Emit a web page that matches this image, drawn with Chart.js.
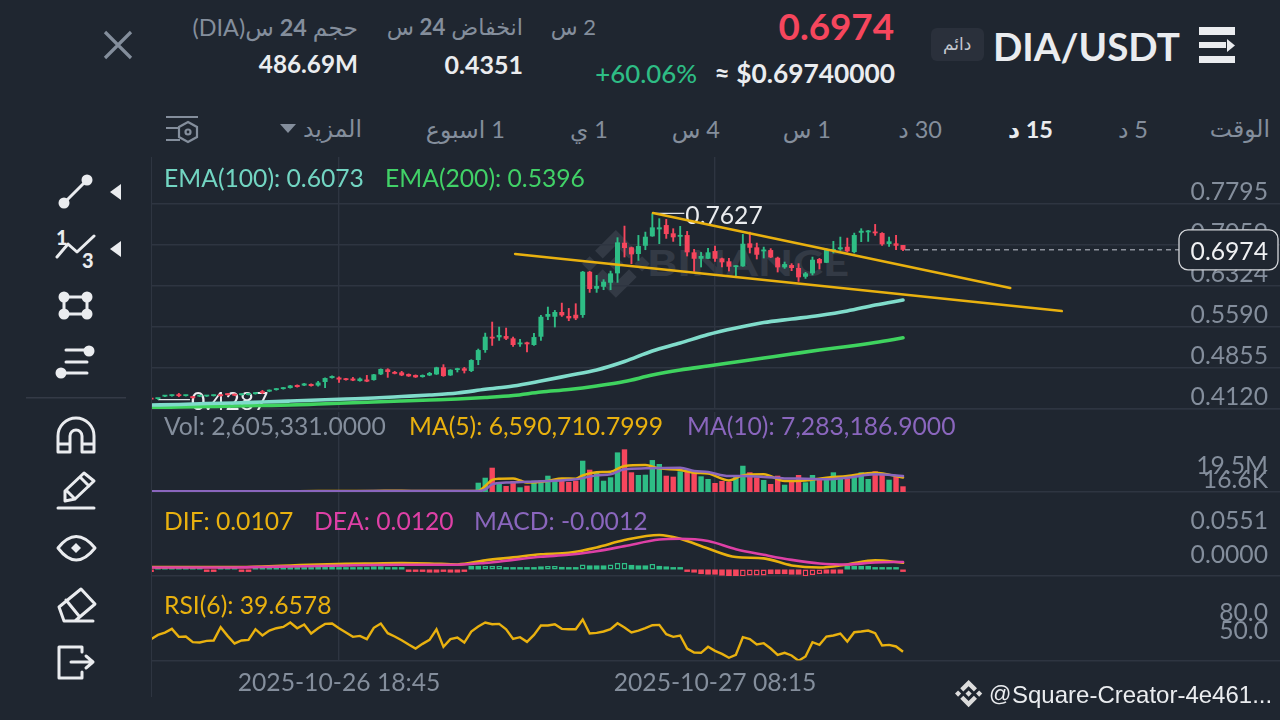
<!DOCTYPE html>
<html><head><meta charset="utf-8">
<style>
html,body{margin:0;padding:0;width:1280px;height:720px;overflow:hidden;background:#1f2630}
body{position:relative;font-family:Lato,"DejaVu Sans",sans-serif}
canvas{position:absolute;left:152px;z-index:2}
.t{position:absolute;white-space:nowrap;line-height:30px;height:30px;font-size:24.7px;z-index:3;color:#848e9c}
.r{direction:rtl;unicode-bidi:isolate;font-size:23.5px}
.w{color:#eaecef}
svg{position:absolute;overflow:visible}
</style></head><body>
<svg style="left:0;top:0;z-index:1" width="1280" height="720">
  <g transform="translate(582,230) scale(.535)" fill="#333a45">
    <path d="M38.73 53.2l24.59-24.58 24.6 24.6 14.3-14.31L63.32 0 24.42 38.9z"/><path d="M0 63.31l14.3-14.31 14.31 14.31-14.31 14.3z"/><path d="M38.73 73.41l24.59 24.59 24.6-24.6 14.31 14.29-38.9 38.91-38.91-38.88z"/><path d="M98 63.31l14.3-14.31 14.31 14.3-14.31 14.32z"/><path d="M77.83 63.3L63.32 48.78 52.59 59.51l-1.24 1.23-2.54 2.54 14.51 14.5 14.51-14.47z"/>
  </g>
  <text x="647" y="276" font-family="Lato" font-weight="900" font-size="36" textLength="202" lengthAdjust="spacingAndGlyphs" fill="#333a45">BINANCE</text>
  <rect x="151" y="157" width="1" height="540" fill="#2e3541"/>
  <rect x="26" y="397" width="100" height="1.5" fill="#343a46"/>
  <path d="M105 32L131 58M131 32L105 58" stroke="#848e9c" stroke-width="3.2" fill="none"/>
  <g fill="#eaecef"><rect x="1199" y="27" width="36" height="8"/><rect x="1199" y="42" width="27" height="6"/><path d="M1227 39l8 6.5-8 6.5z"/><rect x="1199" y="56" width="36" height="7"/></g>
  <rect x="931" y="28" width="53" height="33" rx="6" fill="#2a303b"/>
  <g stroke="#848e9c" stroke-width="2.2" fill="none"><path d="M166 117H198M166 128H180M166 140H180"/><path d="M188 122l9 5v10l-9 5-9-5v-10z"/><circle cx="188" cy="132" r="2.5"/></g>
  <path d="M280 124h16l-8 9z" fill="#848e9c"/>
  <g stroke="#eaecef" stroke-width="3" fill="none" stroke-linecap="round" stroke-linejoin="round">
    <path d="M64 203L87 180"/>
    <path d="M57 257L68 244L77 252L94 236"/>
    <path d="M64 297H87V314H64Z"/>
    <path d="M66 350H89M66 362H87M61 373H87"/>
    <path d="M58 452V436a18 18 0 0 1 36 0V452H82V436a6 6 0 0 0-12 0V452ZM58 444H70M82 444H94"/>
    <path d="M58 508H94M65 501L65 491L84 473L94 481L75 499ZM66 490L75 499M80 477L89 486"/>
    <path d="M58 548Q76 525 95 548Q76 572 58 548Z"/>
    <path d="M59 607L81 589L95 604L75 621H64ZM66 600L79 616M75 621H93"/>
    <path d="M82 647H59V678H82V672M82 652V647M71 662H93M86 656L93 662L86 668"/>
  </g>
  <g fill="#eaecef">
    <circle cx="64" cy="203" r="5.5"/><circle cx="87" cy="180" r="5.5"/>
    <circle cx="64" cy="297" r="5.5"/><circle cx="87" cy="297" r="5.5"/><circle cx="64" cy="314" r="5.5"/><circle cx="87" cy="314" r="5.5"/>
    <circle cx="89" cy="351" r="5.5"/><circle cx="61" cy="373" r="5.5"/>
    <path d="M76 543l5 5-5 5-5-5z"/>
    <path d="M121 184v16l-11-8z"/><path d="M121 241v16l-11-8z"/>
    <text x="56" y="245" font-family="Lato" font-weight="900" font-size="20">1</text>
    <text x="82" y="268" font-family="Lato" font-weight="900" font-size="20">3</text>
  </g>
  <g transform="translate(955,680) scale(.215)" fill="#dcdcdc">
    <path d="M38.73 53.2l24.59-24.58 24.6 24.6 14.3-14.31L63.32 0 24.42 38.9z"/><path d="M0 63.31l14.3-14.31 14.31 14.31-14.31 14.3z"/><path d="M38.73 73.41l24.59 24.59 24.6-24.6 14.31 14.29-38.9 38.91-38.91-38.88z"/><path d="M98 63.31l14.3-14.31 14.31 14.3-14.31 14.32z"/><path d="M77.83 63.3L63.32 48.78 52.59 59.51l-1.24 1.23-2.54 2.54 14.51 14.5 14.51-14.47z"/>
  </g>
</svg>

<div class="t" style="right:386px;top:7px;font-size:36.8px;font-weight:700;color:#f6465d;line-height:38px;height:38px">0.6974</div>
<div class="t w" style="right:385px;top:58px;font-size:26.3px;font-weight:700">≈ $0.69740000</div>
<div class="t" style="right:583px;top:58px;font-size:25.8px;font-weight:500;color:#2ebd85">+60.06%</div>
<div class="t r" style="right:684px;top:12px;font-size:22px">2 س</div>
<div class="t r" style="right:757px;top:12px;font-size:22.3px">انخفاض <b>24</b> س</div>
<div class="t r" style="right:922px;top:12px;font-size:23.4px">حجم <b>24</b> س(DIA)</div>
<div class="t w" style="right:757px;top:49px;font-size:25px;font-weight:700">0.4351</div>
<div class="t w" style="right:922px;top:49px;font-size:24.3px;font-weight:700">486.69M</div>
<div class="t w" style="left:993px;top:24px;font-size:38.6px;font-weight:700;line-height:44px;height:44px">DIA/USDT</div>
<div class="t" style="left:943px;top:29px;font-size:17px;color:#c4c8cf">دائم</div>

<div class="t r" style="right:10px;top:113px">الوقت</div>
<div class="t r" style="right:132px;top:114px">5 د</div>
<div class="t r w" style="right:227px;top:114px;font-weight:700">15 د</div>
<div class="t r" style="right:338px;top:114px">30 د</div>
<div class="t r" style="right:449px;top:114px">1 س</div>
<div class="t r" style="right:560px;top:114px">4 س</div>
<div class="t r" style="right:672px;top:114px">1 ي</div>
<div class="t r" style="right:775px;top:114px">1 اسبوع</div>
<div class="t r" style="right:918px;top:113px">المزيد</div>

<div class="t" style="left:164px;top:163px;color:#72d5c2">EMA(100): 0.6073</div>
<div class="t" style="left:385px;top:163px;color:#41d167">EMA(200): 0.5396</div>
<div class="t" style="left:164px;top:411px">Vol: 2,605,331.0000</div>
<div class="t" style="left:409px;top:411px;color:#e9b10f">MA(5): 6,590,710.7999</div>
<div class="t" style="left:687px;top:411px;color:#8a66bd">MA(10): 7,283,186.9000</div>
<div class="t" style="left:164px;top:506px;color:#e9b10f">DIF: 0.0107</div>
<div class="t" style="left:314px;top:506px;color:#de40a6">DEA: 0.0120</div>
<div class="t" style="left:474px;top:506px;color:#8a66bd">MACD: -0.0012</div>
<div class="t" style="left:164px;top:590px;color:#e9b10f">RSI(6): 39.6578</div>
<div class="t" style="left:989px;top:679px;color:#eaecef;font-family:'Liberation Sans';font-size:22px">@</div>
<div class="t" style="left:1012px;top:680px;color:#eaecef;font-family:'Liberation Sans';font-size:24px">Square-Creator-4e461...</div>

<canvas id="cMain" width="1128" height="253" style="top:157px"></canvas>
<canvas id="cVol" width="1128" height="81" style="top:412px"></canvas>
<canvas id="cMacd" width="1128" height="85" style="top:492px"></canvas>
<canvas id="cRsi" width="1128" height="121" style="top:576px"></canvas>

<script src="https://cdn.jsdelivr.net/npm/chart.js@4"></script>
<script>
const timeIndex = [27, 81];
const timeLabels = ["2025-10-26 18:45", "2025-10-27 08:15"];
const priceTicks = [0.7795, 0.7059, 0.6324, 0.5590, 0.4855, 0.4120];

const opens = [
.4304,.4299,.4343,.4352,.4370,.4352,.4343,.4343,.4345,.4352,
.4370,.4397,.4388,.4370,.4372,.4388,.4433,.4433,.4460,.4478,
.4496,.4550,.4541,.4568,.4541,.4604,.4675,.4684,.4666,.4666,
.4621,.4648,.4639,.4741,.4831,.4783,.4777,.4747,.4729,.4693,
.4723,.4741,.4867,.4723,.4819,.4849,.4801,.4998,.5177,.5416,
.5405,.5428,.5387,.5280,.5315,.5267,.5416,.5774,.5774,.5859,
.5787,.5810,.5805,.6581,.6276,.6312,.6384,.6552,.7101,.7019,
.6899,.7047,.7216,.7341,.7418,.7270,.7209,.7239,.6929,.6814,
.6814,.6952,.6821,.6768,.6665,.6678,.7090,.7019,.6947,.6970,
.6832,.6660,.6701,.6648,.6491,.6552,.6809,.6742,.6958,.6983,
.7029,.6934,.7280,.7288,.7298,.7275,.7078,.7090,.7060];
const closes = [
.4290,.4317,.4361,.4370,.4352,.4370,.4317,.4361,.4361,.4370,
.4352,.4370,.4361,.4388,.4390,.4415,.4406,.4460,.4487,.4505,
.4541,.4514,.4577,.4532,.4595,.4675,.4711,.4648,.4639,.4630,
.4666,.4612,.4741,.4837,.4783,.4752,.4723,.4706,.4688,.4729,
.4765,.4867,.4711,.4824,.4849,.4806,.4998,.5177,.5416,.5384,
.5446,.5380,.5267,.5308,.5280,.5410,.5774,.5823,.5859,.5799,
.5745,.5745,.6581,.6271,.6325,.6402,.6552,.7108,.7006,.6893,
.7042,.7209,.7377,.7377,.7257,.7198,.7234,.6929,.6814,.6863,
.6929,.6814,.6750,.6671,.6689,.7083,.7011,.6886,.6970,.6839,
.6660,.6719,.6648,.6481,.6552,.6796,.6732,.6983,.6988,.7019,
.6947,.7239,.7316,.7316,.7270,.7072,.7126,.7047,.6974];
const highs = [
.4334,.4317,.4370,.4379,.4406,.4375,.4352,.4370,.4368,.4379,
.4379,.4406,.4397,.4397,.4399,.4424,.4460,.4469,.4496,.4514,
.4550,.4559,.4586,.4577,.4622,.4684,.4720,.4702,.4675,.4693,
.4684,.4729,.4748,.4846,.4849,.4801,.4801,.4756,.4738,.4738,
.4783,.4876,.4921,.4833,.4858,.4873,.5011,.5201,.5487,.5685,
.5595,.5577,.5416,.5375,.5326,.5482,.5805,.5954,.5894,.6025,
.5930,.6014,.6594,.6594,.6522,.6445,.6599,.7198,.7406,.7029,
.7239,.7298,.7627,.7539,.7526,.7359,.7401,.7311,.6988,.6934,
.7006,.7047,.6830,.6827,.6695,.7257,.7298,.7101,.7029,.7001,
.6850,.6761,.6732,.6732,.6576,.6850,.6827,.7001,.7132,.7209,
.7191,.7280,.7359,.7329,.7436,.7288,.7209,.7239,.7060];
const lows = [
.4288,.4287,.4335,.4343,.4334,.4345,.4308,.4335,.4337,.4345,
.4343,.4361,.4352,.4361,.4365,.4379,.4388,.4424,.4451,.4469,
.4487,.4505,.4532,.4523,.4523,.4496,.4666,.4591,.4630,.4621,
.4612,.4603,.4630,.4730,.4681,.4743,.4711,.4697,.4679,.4684,
.4711,.4732,.4699,.4714,.4777,.4759,.4783,.4908,.5129,.5254,
.5344,.5357,.5236,.5236,.5136,.5254,.5344,.5715,.5584,.5774,
.5697,.5715,.5756,.6205,.6205,.6253,.6253,.6384,.6839,.6719,
.6778,.6970,.7210,.7078,.7173,.7119,.7042,.6857,.6581,.6660,
.6810,.6761,.6660,.6588,.6468,.6671,.6911,.6803,.6821,.6827,
.6570,.6635,.6594,.6402,.6456,.6517,.6624,.6737,.6911,.6958,
.6929,.6911,.7114,.7119,.7227,.7047,.7029,.6970,.6952];

const emaIndex = [0,4,8,12,16,20,24,28,32,36,40,44,48,52,56,60,64,68,72,76,80,84,88,92,96,100,104,108];
const ema100 = [.4191,.4200,.4218,.4227,.4245,.4263,.4281,.4299,.4317,.4343,.4370,.4406,.4473,.4532,.4622,.4720,.4819,.4971,.5159,.5303,.5455,.5572,.5670,.5733,.5796,.5877,.5984,.6073];
const ema200 = [.4146,.4155,.4164,.4173,.4182,.4191,.4209,.4227,.4245,.4263,.4281,.4299,.4326,.4362,.4424,.4469,.4532,.4612,.4729,.4819,.4890,.4962,.5034,.5106,.5177,.5240,.5312,.5396];

const trendUpperIndex = [72.1, 123.4];
const trendUpperPrice = [.7634, .6289];
const trendLowerIndex = [52.3, 130.8];
const trendLowerPrice = [.6899, .5877];
const highMark = {index: 72, price: .7627};
const lowMark = {index: 1, price: .4287};
const lastPrice = .6974;

const volumesM = [
.18,.22,.12,.1,.14,.09,.16,.08,.1,.12,
.15,.2,.11,.09,.13,.12,.18,.14,.2,.16,
.24,.14,.12,.15,.28,.42,.16,.2,.12,.1,
.16,.22,.34,.4,.52,.2,.24,.18,.15,.14,
.18,.36,.48,.3,.2,.22,.5,4.25,6.53,11.1,
4.43,2.74,5.03,2.15,2.88,5.16,5.16,7.45,5.16,6.26,
4.57,5.16,14.3,10.2,9.0,5.16,6.72,18.1,19.5,9.0,
7.77,7.9,14.6,12.8,7.45,7.0,9.46,10.2,9.0,7.17,
5.94,4.11,5.03,4.71,7.45,12.0,9.0,6.72,5.48,3.66,
7.45,3.34,4.71,7.77,4.43,7.77,5.94,5.62,9.0,6.26,
6.26,7.17,9.0,5.94,9.46,8.68,5.62,7.17,2.605];
const ma5Index = [0,8,16,24,32,36,40,44,46,47,48,49,50,52,53,54,57,59,61,62,64,66,68,71,73,76,78,80,83,85,88,91,94,97,100,104,108];
const ma5M = [.3,.3,.3,.4,.5,.6,.4,.4,.4,.5,2.7,5.5,6.1,6.2,5.3,4.3,5.0,6.2,6.1,7.6,9.0,9.3,11.9,12.3,10.8,10.1,8.8,8.4,5.3,7.6,8.1,5.0,5.3,6.5,7.3,8.8,6.59];
const ma10Index = [0,8,16,24,32,36,40,44,46,47,48,49,51,54,57,61,64,66,68,71,76,78,80,83,85,88,91,94,97,100,104,108];
const ma10M = [.3,.3,.3,.3,.4,.45,.4,.4,.4,.4,1.2,3.5,4.3,4.7,5.0,5.8,7.6,8.1,10.4,10.8,11.1,9.6,9.1,7.3,7.3,6.9,6.2,6.1,5.8,6.5,8.1,7.28];
const volTickTop = 19.5, volTickBottom = 0.0166;

const macdIndex = [0,4,8,12,16,20,24,28,32,36,40,44,48,52,56,60,64,68,73,76,80,84,88,92,96,100,104,108];
const dif = [.0037,.0041,.0041,.0041,.0049,.0065,.0081,.0092,.0097,.0102,.0097,.0081,.0146,.0194,.0243,.0267,.0352,.0470,.0551,.0491,.0335,.0199,.0178,.0065,.0032,.0081,.0146,.0107];
const dea = [.0032,.0032,.0032,.0032,.0041,.0049,.0057,.0065,.0073,.0076,.0076,.0076,.0105,.0154,.0203,.0235,.0292,.0373,.0478,.0491,.0454,.0324,.0235,.0154,.0097,.0081,.0113,.0120];
const macdHist = [
-.0024,.0032,.0032,.0032,.0016,.0016,.0016,.0016,-.0024,-.0024,
.0032,.0032,.0016,-.0024,-.0024,.0032,.0028,.0032,.0036,.0032,
.0032,.0036,.0032,.0016,.0057,.0057,.0057,.0016,.0016,.0016,
.0016,.0016,.0049,.0049,.0016,.0016,.0016,-.0024,-.0024,-.0024,
-.0049,-.0049,-.0024,-.0049,-.0049,-.0024,.0057,.0057,.0057,.0057,
.0057,.0032,.0016,.0016,.0016,.0016,.0049,.0057,.0057,.0041,
.0024,.0024,.0081,.0065,.0065,.0065,.0081,.0105,.0105,.0073,
.0065,.0065,.0089,.0057,.0049,.0016,.0016,-.0032,-.0049,-.0073,
-.0081,-.0081,-.0097,-.0113,-.0113,-.0113,-.0097,-.0097,-.0097,-.0073,
-.0073,-.0073,-.0081,-.0081,-.0113,-.0089,-.0073,-.0065,-.0065,-.0065,
.0057,.0057,.0057,.0057,.0024,.0016,.0016,.0016,-.0012];
const hollowBars = [48,49,50,57,58,62,66,67,68,72,85,86,87,88,94,95,96];
const macdTicks = [.0551, 0];

const rsi6 = [
60.8,68,71.9,78,64.7,65.2,55.8,55.2,58,58.6,
80.8,66.3,53.6,58.6,59.7,77.4,66.9,75.2,79.1,81.3,
88.6,79.1,85.2,70.2,79.1,86.3,86.9,79.1,71.9,64.7,
66.3,60.8,79.7,86.9,70.8,65.2,59.1,51.9,45.2,53,
59.7,77.4,48,60.8,63.6,55.2,73.6,81.9,88.6,85.8,
86.3,77.4,61.3,64.1,56.3,68,83.6,83.6,85.8,78,
77.4,77.4,93.6,70.2,71.3,73.6,77.4,87.4,80.2,71.9,
75.2,79.1,84.1,84.7,69.1,64.7,66.9,45.2,38.6,38,
48,41.3,36.3,29.7,34.7,64.1,60.8,51.9,54.1,45.2,
34.7,38,33.6,24.7,31.9,55.8,51.3,65.2,66.9,70.2,
56.9,72.4,73.6,75.2,70.8,50.2,51.3,48.6,39.66];
const rsiTicks = [80, 50];

const GREEN = '#2ebd85', RED = '#f6465d', BG = '#1f2630', GRID = '#2e3541', TICK = '#848e9c';
const YELLOW = '#e9b10f', PINK = '#de40a6', PURPLE = '#8a66bd', MINT = '#80dccb', LIME = '#3fd35f';
const pxPerCandle = 6.963, xMin = 1 / pxPerCandle, xMax = xMin + 1128 / pxPerCandle;
const font = {family: 'Lato', size: 24.7};
const up = i => closes[i] >= opens[i];
const xy = (xs, ys) => xs.map((x, k) => ({x, y: ys[k]}));
const candleColors = opens.map((_, i) => up(i) ? GREEN : RED);
const noPad = s => { s.paddingTop = s.paddingBottom = s.paddingLeft = s.paddingRight = 0; };

function xScale(extra) {
  return Object.assign({
    type: 'linear', min: xMin, max: xMax, offset: false,
    afterBuildTicks: s => { s.ticks = timeIndex.map(value => ({value})); },
    afterFit: noPad,
    grid: {color: GRID, lineWidth: 1.4, drawTicks: false, offset: false},
    border: {display: true, color: GRID, width: 1.5},
    ticks: {display: false, autoSkip: false, maxRotation: 0}
  }, extra || {});
}
function yScale(min, max, values, labelOffset, fmt, gridOn) {
  return {
    type: 'linear', position: 'right', min, max, beginAtZero: false,
    afterBuildTicks: s => { s.ticks = values.map(value => ({value})); },
    afterFit: s => { noPad(s); s.width = 0; },
    grid: gridOn ? {color: GRID, lineWidth: 1.5, drawTicks: false} : {display: false},
    border: {display: false},
    ticks: {mirror: true, padding: -12, labelOffset, color: TICK, font, autoSkip: false, callback: fmt}
  };
}
function lineDs(data, color, width, order) {
  return {type: 'line', data, borderColor: color, borderWidth: width, pointRadius: 0, fill: false,
    cubicInterpolationMode: 'monotone', order, borderJoinStyle: 'round', borderCapStyle: 'round'};
}
const baseOpts = (scales, bottomPad) => ({
  responsive: false, animation: false, events: [],
  layout: {padding: {left: 0, right: 0, top: 0, bottom: bottomPad}},
  plugins: {legend: {display: false}, tooltip: {enabled: false}},
  datasets: {bar: {grouped: false, borderWidth: 0, inflateAmount: 0}},
  scales
});

const priceAnnot = {
  id: 'priceAnnot',
  beforeDatasetsDraw(c) {
    const {x, y} = c.scales, g = c.ctx;
    g.save();
    g.font = "24.7px Lato"; g.textBaseline = 'middle';
    [[highMark, 3], [lowMark, 2]].forEach(([m, dy]) => {
      const px = x.getPixelForValue(m.index), py = y.getPixelForValue(m.price);
      g.strokeStyle = '#dfe2e6'; g.lineWidth = 1.2;
      g.beginPath(); g.moveTo(px, py); g.lineTo(px + 32, py); g.stroke();
      g.fillStyle = '#eaecef'; g.textAlign = 'left';
      g.fillText(m.price.toFixed(4), px + 33, py + dy);
    });
    g.restore();
  },
  afterDraw(c) {
    const {x, y} = c.scales, g = c.ctx;
    const py = y.getPixelForValue(lastPrice), x0 = x.getPixelForValue(closes.length - 1) + 2, bx = 1027;
    g.save();
    g.strokeStyle = '#8b909a'; g.lineWidth = 1.5; g.setLineDash([5, 4]);
    g.beginPath(); g.moveTo(x0, py); g.lineTo(bx, py); g.stroke();
    g.setLineDash([]);
    g.beginPath(); g.roundRect(bx, py - 20, 99, 40, 9);
    g.fillStyle = BG; g.fill();
    g.strokeStyle = '#d4d6da'; g.lineWidth = 1.3; g.stroke();
    g.fillStyle = '#f0f1f3'; g.font = "24.7px Lato"; g.textAlign = 'right'; g.textBaseline = 'middle';
    g.fillText(lastPrice.toFixed(4), 1116, py + 2);
    g.restore();
  }
};

new Chart(document.getElementById('cMain'), {
  type: 'bar',
  data: {datasets: [
    {data: opens.map((_, i) => ({x: i, y: [lows[i], highs[i]]})), backgroundColor: candleColors, barThickness: 1.9, order: 6},
    {data: opens.map((_, i) => ({x: i, y: [Math.min(opens[i], closes[i]), Math.max(opens[i], closes[i])]})), backgroundColor: candleColors, barThickness: 5, minBarLength: 1.8, order: 5},
    lineDs(xy(emaIndex, ema200), LIME, 3.6, 4),
    lineDs(xy(emaIndex, ema100), MINT, 3.6, 3),
    lineDs(xy(trendLowerIndex, trendLowerPrice), YELLOW, 2.6, 2),
    lineDs(xy(trendUpperIndex, trendUpperPrice), YELLOW, 2.6, 1)
  ]},
  options: baseOpts({
    x: xScale(),
    y: yScale(.4120, .4120 + 252 * .001793, priceTicks, -12, v => v.toFixed(4), true)
  }, 1),
  plugins: [priceAnnot]
});

const volMax = 80 * .457;
new Chart(document.getElementById('cVol'), {
  type: 'bar',
  data: {datasets: [
    {data: volumesM.map((v, i) => ({x: i, y: v})), backgroundColor: candleColors, barThickness: 5.4, order: 3},
    lineDs(xy(ma5Index, ma5M), YELLOW, 2.5, 2),
    lineDs(xy(ma10Index, ma10M), PURPLE, 2.5, 1)
  ]},
  options: baseOpts({
    x: xScale(),
    y: yScale(0, volMax, [volTickTop], 17, () => '19.5M', false),
    yLow: yScale(0, volMax, [volTickBottom], -12, () => '16.6K', false)
  }, 1)
});

const mK = .0551 / 34.5;
new Chart(document.getElementById('cMacd'), {
  type: 'bar',
  data: {datasets: [
    {data: macdHist.map((v, i) => ({x: i, y: v})),
     backgroundColor: macdHist.map((v, i) => hollowBars.includes(i) ? BG : (v >= 0 ? GREEN : RED)),
     borderColor: macdHist.map(v => v >= 0 ? GREEN : RED),
     borderWidth: macdHist.map((v, i) => hollowBars.includes(i) ? 1.5 : 0),
     borderSkipped: false, barThickness: 5.6, minBarLength: 2.4, order: 3},
    lineDs(xy(macdIndex, dif), YELLOW, 2.6, 2),
    lineDs(xy(macdIndex, dea), PINK, 2.6, 1)
  ]},
  options: baseOpts({
    x: xScale(),
    y: yScale(-6.5 * mK, 77.5 * mK, macdTicks, -14, v => v.toFixed(4), false)
  }, 1)
});

const rK = 1 / .6;
new Chart(document.getElementById('cRsi'), {
  type: 'line',
  data: {datasets: [
    {data: rsi6.map((v, i) => ({x: i, y: v})), borderColor: YELLOW, borderWidth: 2.4, pointRadius: 0, tension: 0}
  ]},
  options: baseOpts({
    x: xScale({
      afterFit: s => { noPad(s); s.height = 36.5; },
      ticks: {display: true, autoSkip: false, maxRotation: 0, color: TICK, font, padding: 8,
        callback: v => timeLabels[timeIndex.indexOf(v)]}
    }),
    y: yScale(39.66 - 8.7 * rK, 39.66 + 76 * rK, rsiTicks, -15, v => v.toFixed(1), false)
  }, 0)
});
</script>
</body></html>
